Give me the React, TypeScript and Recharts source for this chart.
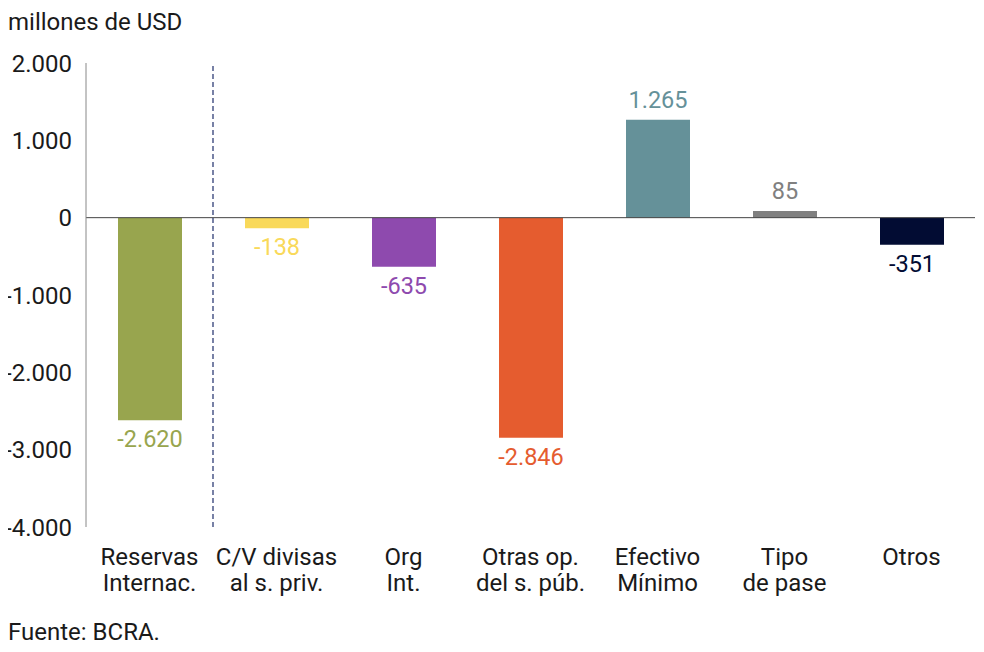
import React from "react"
import {
  BarChart,
  Bar,
  Cell,
  XAxis,
  YAxis,
  ReferenceLine,
  LabelList,
} from "recharts"

const categories = [
  "Reservas\nInternac.",
  "C/V divisas\nal s. priv.",
  "Org\nInt.",
  "Otras op.\ndel s. púb.",
  "Efectivo\nMínimo",
  "Tipo\nde pase",
  "Otros",
]
const values = [-2620, -138, -635, -2846, 1265, 85, -351]
const colors = ["#98A54E", "#F9D95A", "#8E4AAE", "#E55C2F", "#659199", "#808080", "#020C33"]
const yTicks = [-4000, -3000, -2000, -1000, 0, 1000, 2000]

const data = categories.map((name, i) => ({ name, value: values[i] }))

const FONT = "Roboto, 'Noto Sans', sans-serif"

const fmt = (v: number) => {
  const s = Math.abs(v).toString().replace(/\B(?=(\d{3})+(?!\d))/g, ".")
  return (v < 0 ? "-" : "") + s
}

const CategoryTick = (props: any) => {
  const { x, y, payload } = props
  const lines = String(payload.value).split("\n")
  return (
    <text x={x} y={y} textAnchor="middle" fill="#1a1a1a" fontSize={24} fontFamily={FONT}>
      {lines.map((l, i) => (
        <tspan key={i} x={x} dy={i === 0 ? 38 : 26}>
          {l}
        </tspan>
      ))}
    </text>
  )
}

const ValueLabel = (props: any) => {
  const { x, y, width, height, value, index } = props
  const top = Math.min(y, y + height)
  const bottom = Math.max(y, y + height)
  const cx = x + width / 2
  const ty = value >= 0 ? top - 12 : bottom + 27
  return (
    <text x={cx} y={ty} textAnchor="middle" fill={colors[index]} fontSize={23.5} fontFamily={FONT}>
      {fmt(value)}
    </text>
  )
}

export default function App() {
  // pull the chart back over the body's 8px margin so the -4.000 tick fits
  return (
    <div
      style={{
        position: "relative",
        width: 984,
        height: 652,
        margin: -8,
        fontFamily: FONT,
        color: "#1a1a1a",
        overflow: "hidden",
      }}
    >
      <div style={{ position: "absolute", left: 8, top: 9, fontSize: 24, lineHeight: "26px" }}>
        millones de USD
      </div>
      <BarChart
        width={984}
        height={652}
        data={data}
        margin={{ top: 63, right: 9, left: 0, bottom: 45 }}
      >
        <XAxis
          dataKey="name"
          interval={0}
          axisLine={false}
          tickLine={false}
          tickSize={0}
          tickMargin={0}
          height={80}
          tick={<CategoryTick />}
        />
        <YAxis
          domain={[-4000, 2000]}
          ticks={yTicks}
          interval={0}
          width={86}
          axisLine={{ stroke: "#888" }}
          tickLine={false}
          tickSize={0}
          tickMargin={14}
          tickFormatter={fmt}
          tick={{ fill: "#1a1a1a", fontSize: 24, fontFamily: FONT }}
        />
        <ReferenceLine y={0} stroke="#444" strokeWidth={1} />
        <ReferenceLine
          x={categories[1]}
          position="start"
          stroke="#1F2D6B"
          strokeWidth={1.2}
          strokeDasharray="5 3"
        />
        <Bar dataKey="value" barSize={64} isAnimationActive={false}>
          {data.map((d, i) => (
            <Cell key={d.name} fill={colors[i]} />
          ))}
          <LabelList dataKey="value" content={<ValueLabel />} />
        </Bar>
      </BarChart>
      <div style={{ position: "absolute", left: 8, top: 619, fontSize: 24, lineHeight: "26px" }}>
        Fuente: BCRA.
      </div>
    </div>
  )
}
